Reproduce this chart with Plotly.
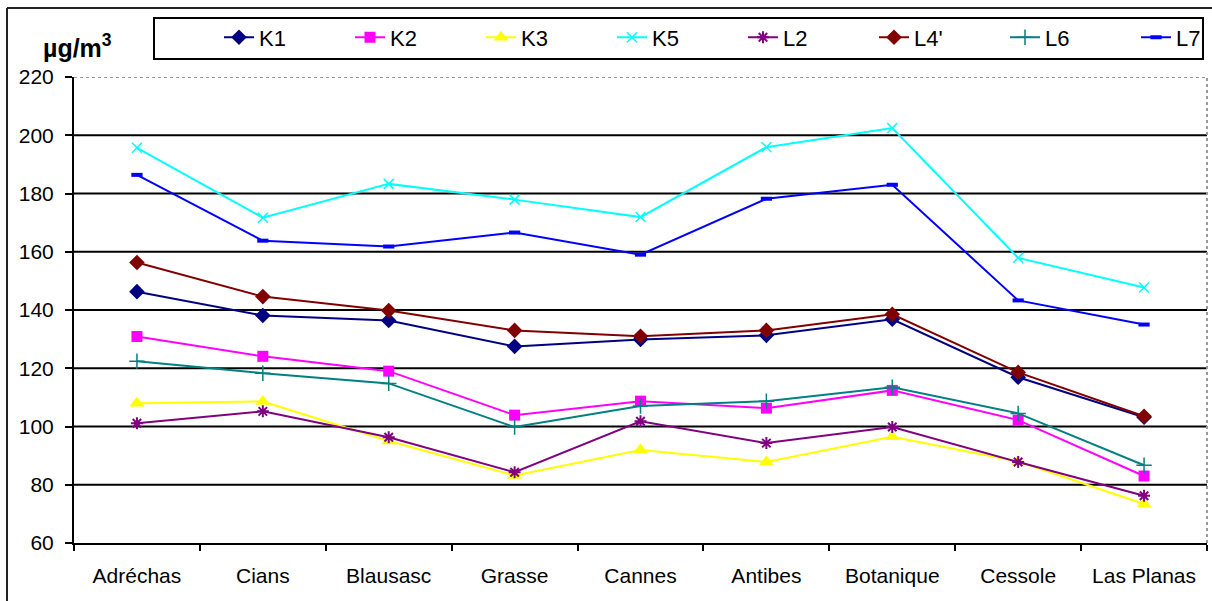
import plotly.graph_objects as go

sites = ["Adréchas", "Cians", "Blausasc", "Grasse", "Cannes", "Antibes", "Botanique", "Cessole", "Las Planas"]

K1 = [146.3, 138.1, 136.4, 127.5, 129.9, 131.3, 136.8, 116.9, 103.2]
K2 = [130.9, 124.1, 119.0, 103.9, 108.7, 106.3, 112.4, 102.2, 83.0]
K3 = [108.0, 108.6, 95.0, 83.2, 91.9, 87.8, 96.5, 88.0, 73.4]
K5 = [195.7, 171.7, 183.3, 177.9, 171.9, 195.9, 202.5, 157.9, 147.7]
L2 = [101.1, 105.2, 96.3, 84.3, 101.8, 94.3, 99.8, 87.8, 76.2]
L4 = [156.3, 144.6, 139.8, 133.0, 131.0, 133.0, 138.5, 118.6, 103.5]
L6 = [122.4, 118.3, 114.8, 99.8, 107.0, 108.7, 113.5, 104.5, 86.7]
L7 = [186.4, 163.8, 161.8, 166.6, 159.0, 178.2, 183.0, 143.3, 135.0]

y_ticks = [60, 80, 100, 120, 140, 160, 180, 200, 220]

series = [
    ("K1", K1, "#000080", "diamond", 12, 0),
    ("K2", K2, "#FF00FF", "square", 11, 0),
    ("K3", K3, "#FFFF00", "triangle-up", 13, 0),
    ("K5", K5, "#00FFFF", "x-thin-open", 10, 1.5),
    ("L2", L2, "#800080", "asterisk-open", 10, 2),
    ("L4'", L4, "#800000", "diamond", 12, 0),
    ("L6", L6, "#008080", "cross-thin-open", 11, 1.5),
    ("L7", L7, "#0000FF", "line-ew-open", 8, 4),
]

FONT = "Liberation Sans, Arial, sans-serif"
W, H = 1212, 601
ML, MR, MT, MB = 74, 5, 77, 58
PW, PH = W - ML - MR, H - MT - MB


def px_x(p):
    return (p - ML) / PW


def px_y(p):
    return (H - MB - p) / PH


fig = go.Figure()
for name, vals, col, sym, sz, lw in series:
    marker = dict(symbol=sym, size=sz, color=col)
    if lw:
        marker["line"] = dict(color=col, width=lw)
    else:
        marker["line"] = dict(width=0)
    fig.add_trace(go.Scatter(
        x=sites, y=vals, name=name, mode="lines+markers",
        line=dict(color=col, width=2), marker=marker,
    ))

shapes = []
for v in y_ticks[1:-1]:
    shapes.append(dict(type="line", xref="paper", yref="y", x0=0, x1=1, y0=v, y1=v,
                       line=dict(color="black", width=2), layer="below"))
shapes.append(dict(type="line", xref="paper", yref="y", x0=0, x1=1, y0=220, y1=220,
                   line=dict(color="#999999", width=2, dash="dot"), layer="below"))
shapes.append(dict(type="line", xref="paper", yref="y", x0=1, x1=1, y0=60, y1=220,
                   line=dict(color="#999999", width=2, dash="dot"), layer="below"))
# outer chart frame (left and top)
shapes.append(dict(type="line", xref="paper", yref="paper", x0=px_x(7), x1=px_x(7), y0=px_y(640), y1=px_y(8),
                   line=dict(color="#222222", width=2)))
shapes.append(dict(type="line", xref="paper", yref="paper", x0=px_x(7), x1=px_x(1230), y0=px_y(8), y1=px_y(8),
                   line=dict(color="#222222", width=2)))
# legend box
shapes.append(dict(type="rect", xref="paper", yref="paper", x0=px_x(154), x1=px_x(1203), y0=px_y(59), y1=px_y(18),
                   line=dict(color="black", width=2), fillcolor="white", layer="below"))

fig.update_layout(
    width=W, height=H,
    margin=dict(l=ML, r=MR, t=MT, b=MB, autoexpand=False),
    paper_bgcolor="white", plot_bgcolor="white",
    font=dict(family=FONT, size=21, color="black"),
    shapes=shapes,
    showlegend=True,
    legend=dict(
        orientation="h", xref="container", yref="container",
        x=219 / W, y=1 - 37.5 / H, xanchor="left", yanchor="middle",
        borderwidth=0, bgcolor="rgba(0,0,0,0)",
        font=dict(family=FONT, size=22, color="black"),
        entrywidth=86, entrywidthmode="pixels",
        itemclick=False, itemdoubleclick=False,
    ),
    annotations=[dict(
        text="<b>µg/m<sup>3</sup></b>", xref="paper", yref="paper",
        x=px_x(41), y=px_y(46), xanchor="left", yanchor="middle", showarrow=False,
        font=dict(family=FONT, size=25, color="black"),
    )],
)

fig.update_xaxes(
    type="category", range=[-0.5, 8.5], showgrid=False, automargin=False,
    showline=True, linecolor="black", linewidth=2,
    ticks="outside", tickson="boundaries", ticklen=6, tickwidth=2, tickcolor="black",
    ticklabelstandoff=13, tickfont=dict(size=21),
)
fig.update_yaxes(
    range=[60, 220], tickvals=y_ticks, showgrid=False, zeroline=False, automargin=False,
    showline=True, linecolor="black", linewidth=2,
    ticks="outside", ticklen=7, tickwidth=2, tickcolor="black",
    ticklabelstandoff=7, tickfont=dict(size=21),
)

fig.write_html(
    "out.html",
    config={"displayModeBar": False},
    post_script="document.body.style.margin='0';document.body.style.overflow='hidden';",
)
